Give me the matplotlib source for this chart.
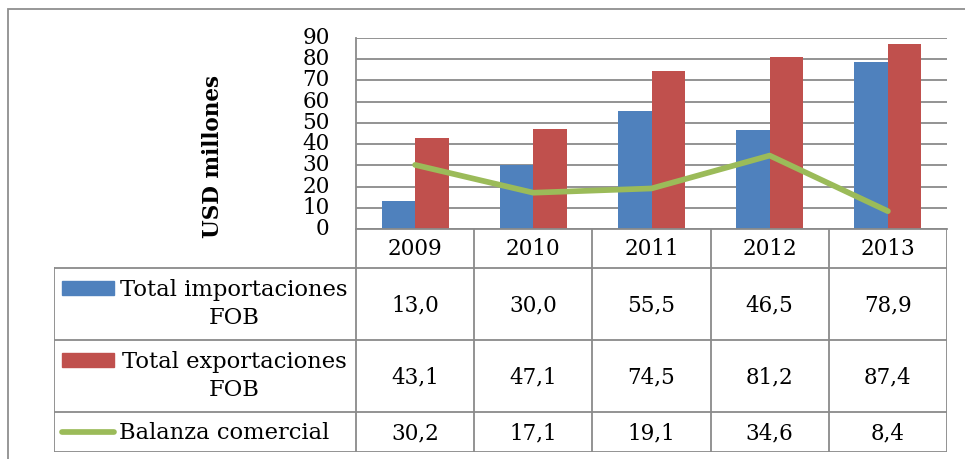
import matplotlib.pyplot as plt
from matplotlib.patches import Rectangle
from matplotlib.lines import Line2D

years = ["2009", "2010", "2011", "2012", "2013"]
importaciones = [13.0, 30.0, 55.5, 46.5, 78.9]
exportaciones = [43.1, 47.1, 74.5, 81.2, 87.4]
balanza = [30.2, 17.1, 19.1, 34.6, 8.4]
series_names = ["Total importaciones\nFOB", "Total exportaciones\nFOB", "Balanza comercial"]

BLUE = "#4F81BD"
RED = "#C0504D"
GREEN = "#9BBB59"
GRID = "#8A8A8A"
FONT = "DejaVu Serif"
FS = 15.5

W, H = 965, 459
fig = plt.figure(figsize=(W / 100, H / 100), dpi=100)
plt.rcParams["font.family"] = FONT


def fx(px):
    return px / W


def fy(py):
    return 1 - py / H


# outer chart border (left and top visible only)
fig.add_artist(Rectangle((fx(8), fy(470)), fx(980), fy(9) - fy(470),
                         transform=fig.transFigure, fill=False,
                         edgecolor="#8F8F8F", lw=1.3))

# plot area
x0, x1 = 356, 947
y_top, y_zero = 38, 229
ax = fig.add_axes([fx(x0), fy(y_zero), fx(x1 - x0), fy(y_top) - fy(y_zero)])
n = len(years)
xs = list(range(n))
bw = 0.284
ax.bar([x - bw / 2 for x in xs], importaciones, width=bw, color=BLUE, zorder=2)
ax.bar([x + bw / 2 for x in xs], exportaciones, width=bw, color=RED, zorder=2)
ax.plot(xs, balanza, color=GREEN, lw=4.1, solid_capstyle="round",
        solid_joinstyle="round", zorder=3)
ax.set_xlim(-0.5, n - 0.5)
ax.set_ylim(0, 90)
ax.set_yticks(range(0, 91, 10))
ax.set_xticks([])
ax.tick_params(axis="y", length=0, pad=19, labelsize=FS)
for lab in ax.get_yticklabels():
    lab.set_fontfamily(FONT)
    lab.set_verticalalignment("center")
ax.grid(axis="y", color=GRID, lw=1.3, zorder=1)
ax.set_axisbelow(True)
for side in ["top", "right"]:
    ax.spines[side].set_visible(False)
ax.spines["left"].set_color(GRID)
ax.spines["left"].set_linewidth(1.3)
ax.spines["bottom"].set_color(GRID)
ax.spines["bottom"].set_linewidth(1.3)

# axis title sits a bit lower than the plot area centre
fig.text(fx(213), fy(157), "USD millones", rotation=90, ha="center",
         va="center", fontsize=FS, fontweight="bold")

# data table below the plot, same x scale as the bars
tab_left, tab_bottom = 54, 452
px_per_cat = (x1 - x0) / n
xl = -0.5 - (x0 - tab_left) / px_per_cat
tx = fig.add_axes([fx(tab_left), fy(tab_bottom), fx(x1 - tab_left),
                   fy(y_zero) - fy(tab_bottom)])
tx.set_xlim(xl, n - 0.5)
tx.set_ylim(tab_bottom - y_zero, 0)
tx.axis("off")

rows = [0, 39, 111, 183, 223]  # row boundaries, px below the zero line
lc = dict(color=GRID, lw=1.3, solid_capstyle="projecting")
# vertical lines for year columns
for k in range(n + 1):
    tx.add_line(Line2D([k - 0.5, k - 0.5], [rows[0], rows[-1]], **lc))
# left border of the legend column
tx.add_line(Line2D([xl, xl], [rows[1], rows[-1]], **lc))
for r in rows[1:]:
    tx.add_line(Line2D([xl, n - 0.5], [r, r], **lc))

for k, yr in enumerate(years):
    tx.text(k, (rows[0] + rows[1]) / 2 + 1, yr, ha="center", va="center",
            fontsize=FS)

values = [importaciones, exportaciones, balanza]
for i, vals in enumerate(values):
    yc = (rows[i + 1] + rows[i + 2]) / 2
    for k, v in enumerate(vals):
        tx.text(k, yc + 1, f"{v:.1f}".replace(".", ","), ha="center",
                va="center", fontsize=FS)

# legend cells
LFS = 16.3
sw_x0 = xl + (62 - tab_left) / px_per_cat
sw_x1 = xl + (114 - tab_left) / px_per_cat
txt_c = xl + (234 - tab_left) / px_per_cat
for i, (name, col) in enumerate(zip(series_names[:2], [BLUE, RED])):
    top = rows[i + 1]
    tx.add_patch(Rectangle((sw_x0, top + 13), sw_x1 - sw_x0, 14, color=col))
    tx.text(txt_c, top + 36, name, ha="center", va="center", fontsize=LFS,
            linespacing=1.3)
yc = (rows[3] + rows[4]) / 2
tx.add_line(Line2D([sw_x0, sw_x1], [yc, yc], color=GREEN, lw=4.1,
                   solid_capstyle="round"))
tx.text(xl + (119 - tab_left) / px_per_cat, yc + 1, series_names[2],
        ha="left", va="center", fontsize=LFS)

fig.savefig("out.png", dpi=100)
